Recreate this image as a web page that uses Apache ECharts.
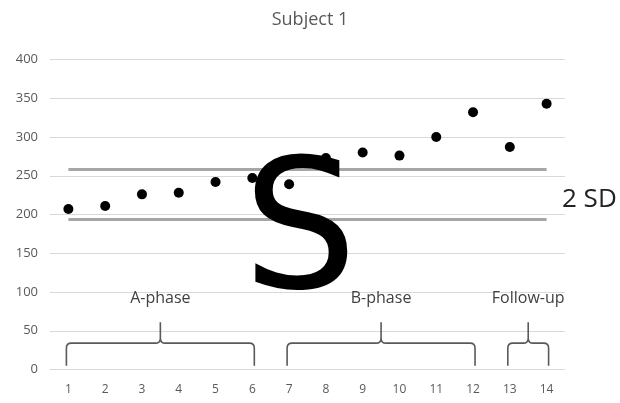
<!DOCTYPE html>
<html>
<head>
<meta charset="utf-8">
<style>
  html, body { margin: 0; padding: 0; background: #fff; }
  #chart { width: 620px; height: 403px; }
</style>
<script src="https://cdn.jsdelivr.net/npm/echarts@6/dist/echarts.min.js"></script>
</head>
<body>
<div id="chart"></div>
<script>
// Session numbers along the x axis
const categories = ['1', '2', '3', '4', '5', '6', '7', '8', '9', '10', '11', '12', '13', '14'];
// Score measured at each session
const scores = [207, 211, 226, 228, 242, 247, 239, 273, 280, 276, 300, 332, 287, 343];
// Band of two standard deviations around the baseline mean
const sdUpper = 258;
const sdLower = 194;
const yTicks = [0, 50, 100, 150, 200, 250, 300, 350, 400];
// Study phases: label, first session index, last session index
const phaseNames = ['A-phase', 'B-phase', 'Follow-up'];
const phaseStart = [0, 6, 12];
const phaseEnd = [5, 11, 13];

const FONT = "'Open Sans', sans-serif";
const chart = echarts.init(document.getElementById('chart'));

// Curly brace under each phase, with its name above the peak
function renderBrace(params, api) {
  const i = params.dataIndex;
  const pl = api.coord([phaseStart[i], 5]);
  const pr = api.coord([phaseEnd[i], 5]);
  const yh = api.coord([phaseStart[i], 34])[1];
  const yp = api.coord([phaseStart[i], 61])[1];
  const yl = api.coord([phaseStart[i], 92])[1];
  const xl = pl[0] - 2, xr = pr[0] + 2, yb = pl[1];
  const xm = (xl + xr) / 2;
  const r = 5;
  const d = 'M' + xl + ',' + yb + ' L' + xl + ',' + (yh + r) +
    ' Q' + xl + ',' + yh + ' ' + (xl + r) + ',' + yh +
    ' L' + (xm - r) + ',' + yh +
    ' Q' + xm + ',' + yh + ' ' + xm + ',' + (yh - r) +
    ' L' + xm + ',' + yp +
    ' M' + xm + ',' + (yh - r) +
    ' Q' + xm + ',' + yh + ' ' + (xm + r) + ',' + yh +
    ' L' + (xr - r) + ',' + yh +
    ' Q' + xr + ',' + yh + ' ' + xr + ',' + (yh + r) +
    ' L' + xr + ',' + yb;
  return {
    type: 'group',
    children: [
      { type: 'path', shape: { pathData: d },
        style: { fill: 'none', stroke: '#595959', lineWidth: 1.6 } },
      { type: 'text', x: xm, y: yl,
        style: { text: phaseNames[i], fill: '#404040', font: '16px ' + FONT,
                 align: 'center', verticalAlign: 'middle' } }
    ]
  };
}

chart.setOption({
  animation: false,
  title: {
    text: 'Subject 1', left: 'center', top: 6,
    textStyle: { fontFamily: FONT, fontSize: 18, fontWeight: 'normal', color: '#595959' }
  },
  grid: { left: 50, right: 55, top: 59.5, bottom: 33.5 },
  xAxis: {
    type: 'category', data: categories, boundaryGap: true,
    axisLine: { show: false }, axisTick: { show: false },
    axisLabel: { color: '#595959', fontSize: 12, fontFamily: FONT, margin: 14 }
  },
  yAxis: {
    type: 'value', min: yTicks[0], max: yTicks[yTicks.length - 1], interval: 50,
    axisLine: { show: false }, axisTick: { show: false },
    axisLabel: { color: '#595959', fontSize: 13, fontFamily: FONT, margin: 12 },
    splitLine: { lineStyle: { color: '#d9d9d9', width: 1 } }
  },
  graphic: [
    { type: 'text', left: 562, top: 187,
      style: { text: '2 SD', fill: '#222', font: '26px ' + FONT } },
    { type: 'text', left: 243, top: 150, z: 100,
      style: { text: 'S', fill: '#000', font: "180px 'DejaVu Sans', sans-serif" } }
  ],
  series: [
    {
      type: 'scatter', data: scores, symbolSize: 10,
      itemStyle: { color: '#000', opacity: 1 }, z: 5,
      markLine: {
        silent: true, symbol: 'none', label: { show: false },
        lineStyle: { color: '#a6a6a6', width: 3, type: 'solid' },
        data: [
          [{ coord: [0, sdUpper] }, { coord: [13, sdUpper] }],
          [{ coord: [0, sdLower] }, { coord: [13, sdLower] }]
        ]
      }
    },
    {
      type: 'custom', renderItem: renderBrace, clip: false, silent: true,
      data: phaseNames.map((_, i) => [phaseStart[i], 5]),
      encode: { x: 0, y: 1 }
    }
  ]
});
</script>
</body>
</html>
